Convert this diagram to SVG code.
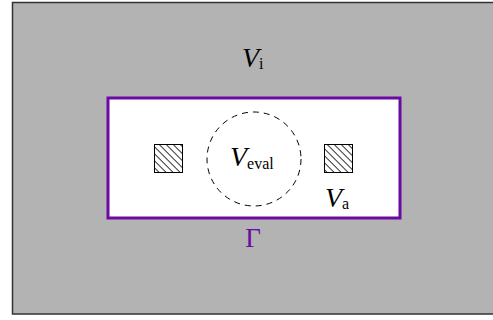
<svg xmlns="http://www.w3.org/2000/svg" width="493" height="320" viewBox="0 0 493 320">
<style>
  .lbl{font-family:"Liberation Serif","DejaVu Serif",serif;fill:#000}
  .it{font-style:italic;font-size:28px}
  .sub{font-size:16px}
  .src{fill:url(#hatch);stroke:#000;stroke-width:1}
</style>
<defs>
  <pattern id="hatch" patternUnits="userSpaceOnUse" width="4.95" height="4.95" patternTransform="rotate(-45)">
    <rect width="4.95" height="4.95" fill="#fff"/>
    <line x1="0" y1="0" x2="0" y2="4.95" stroke="#000" stroke-width="1.6"/>
  </pattern>
</defs>
<rect x="0" y="0" width="493" height="320" fill="#fff"/>
<g id="outer">
  <rect x="12.5" y="2.5" width="492" height="311.5" fill="#b3b3b3" stroke="#333" stroke-width="1.5"/>
  <text class="lbl" x="242" y="67"><tspan class="it">V</tspan><tspan class="sub" dy="2">i</tspan></text>
</g>
<g id="gamma">
  <rect x="108" y="98" width="292" height="120" fill="#fff" stroke="#6a0aa2" stroke-width="3"/>
  <text x="253" y="247" text-anchor="middle" font-family="Liberation Serif, serif" font-size="27" fill="#6a0aa2">Γ</text>
</g>
<g id="eval">
  <circle cx="254" cy="159" r="47" fill="none" stroke="#000" stroke-width="1" stroke-dasharray="6,5"/>
  <text class="lbl" x="230" y="166"><tspan class="it">V</tspan><tspan class="sub" dy="3">eval</tspan></text>
</g>
<g id="src-left">
  <rect class="src" x="154.5" y="144.5" width="28" height="28"/>
</g>
<g id="src-right">
  <rect class="src" x="324.5" y="144.5" width="28" height="28"/>
  <text class="lbl" x="325" y="207"><tspan class="it">V</tspan><tspan class="sub" dy="2">a</tspan></text>
</g>
<g id="connectors"></g>
</svg>
